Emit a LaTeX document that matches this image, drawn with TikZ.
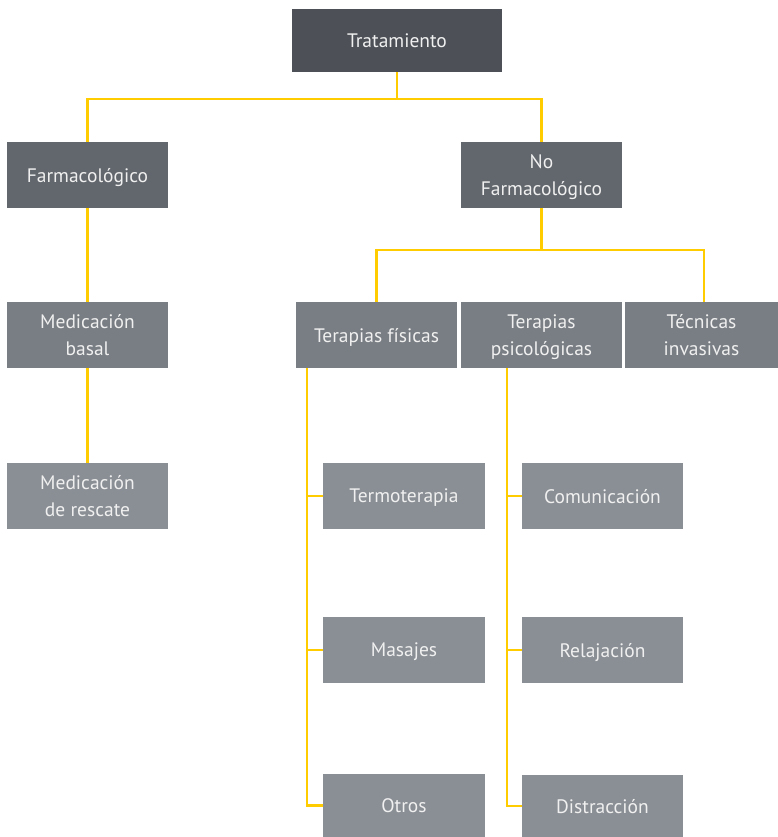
\documentclass[tikz,border=0pt]{standalone}
\usepackage{fontspec}
\setmainfont{PT Sans}
\begin{document}
\begin{tikzpicture}[x=1pt,y=-1pt,
  box/.style={rectangle,inner sep=0pt,text=white!94!black,align=center,
    text depth=0pt,font=\fontsize{19.5}{27}\selectfont},
  lv1/.style={box,fill=c1},
  lv2/.style={box,fill=c2},
  lv3/.style={box,fill=c3},
  lv4/.style={box,fill=c4},
  link/.style={draw=linky,line width=2.5pt}]
\definecolor{c1}{HTML}{4D5157}
\definecolor{c2}{HTML}{62676D}
\definecolor{c3}{HTML}{797E84}
\definecolor{c4}{HTML}{8A8F95}
\definecolor{linky}{HTML}{FFCC00}
\useasboundingbox (0,0) rectangle (778,837);
% top level
\node[lv1,minimum width=210pt,minimum height=63pt] (trat) at (397,40.5) {Tratamiento};
% second level
\node[lv2,minimum width=161pt,minimum height=66pt] (farm) at (87.5,175) {Farmacológico};
\node[lv2,minimum width=161pt,minimum height=66pt] (nofarm) at (541.5,175) {No\\Farmacológico};
% pharmacological branch
\node[lv3,minimum width=161pt,minimum height=66pt] (basal) at (87.5,335) {Medicación\\basal};
\node[lv4,minimum width=161pt,minimum height=66pt] (rescate) at (87.5,496) {Medicación\\de rescate};
% non-pharmacological branch
\node[lv3,minimum width=161pt,minimum height=66pt] (fis) at (376.5,335) {Terapias físicas};
\node[lv3,minimum width=161pt,minimum height=66pt] (psi) at (541.5,335) {Terapias\\psicológicas};
\node[lv3,minimum width=153pt,minimum height=66pt] (inv) at (701.5,335) {Técnicas\\invasivas};
% physical therapies
\node[lv4,minimum width=162pt,minimum height=66pt] (termo) at (404,496) {Termoterapia};
\node[lv4,minimum width=162pt,minimum height=66pt] (masa) at (404,650) {Masajes};
\node[lv4,minimum width=162pt,minimum height=63pt] (otros) at (404,805.5) {Otros};
% psychological therapies
\node[lv4,minimum width=161pt,minimum height=66pt] (comu) at (602.5,496) {Comunicación};
\node[lv4,minimum width=161pt,minimum height=66pt] (rela) at (602.5,650) {Relajación};
\node[lv4,minimum width=161pt,minimum height=62pt] (dist) at (602.5,806) {Distracción};
% connector anchors
\coordinate (tb) at (397,99);
\coordinate (nb) at (541.5,250);
\coordinate (invx) at (704,302);
\coordinate (fisx) at (307,368);
\coordinate (psix) at (507,368);
% connectors
\draw[link] (trat.south) -- (tb);
\draw[link] (farm.north) |- (tb) -| (nofarm.north);
\draw[link] (farm.south) -- (basal.north);
\draw[link] (basal.south) -- (rescate.north);
\draw[link] (nofarm.south) -- (nb);
\draw[link] (fis.north) |- (nb) -| (invx);
\draw[link] (fisx) |- (otros.west);
\draw[link] (termo.west) -- (termo.west -| fisx);
\draw[link] (masa.west) -- (masa.west -| fisx);
\draw[link] (psix) |- (dist.west);
\draw[link] (comu.west) -- (comu.west -| psix);
\draw[link] (rela.west) -- (rela.west -| psix);
\end{tikzpicture}
\end{document}
